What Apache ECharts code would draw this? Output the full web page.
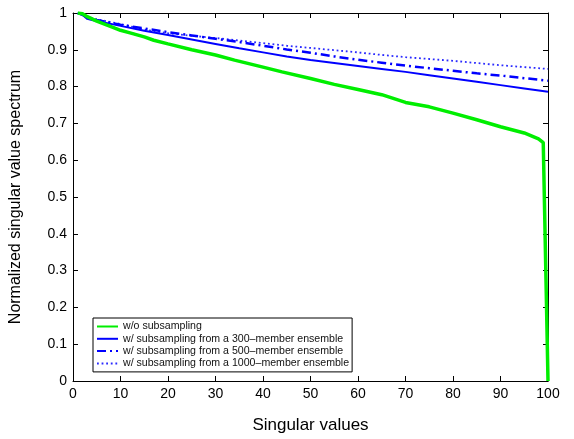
<!DOCTYPE html>
<html><head><meta charset="utf-8">
<script src="https://cdn.jsdelivr.net/npm/echarts@6/dist/echarts.min.js"></script>
<style>html,body{margin:0;padding:0;background:#fff}#c{width:574px;height:439px}</style>
</head><body><div id="c"></div>
<script>
const seriesNames = ['w/o subsampling','w/ subsampling from a 300\u2013member ensemble','w/ subsampling from a 500\u2013member ensemble','w/ subsampling from a 1000\u2013member ensemble'];
const xNoSub = [1,2,3,5,8,10,12,15,17,20,25,30,34,40,44,50,55,60,65,70,75,80,85,90,95,98,99,100];
const yNoSub = [1.0,0.998,0.99,0.978,0.963,0.953,0.946,0.935,0.926,0.916,0.900,0.886,0.872,0.853,0.840,0.822,0.806,0.792,0.778,0.757,0.745,0.728,0.710,0.691,0.674,0.658,0.648,0.0];
const x300 = [1,2,3,4,5,10,15,20,25,30,35,40,45,50,55,60,65,70,75,80,85,90,95,100];
const y300 = [1.0,0.995,0.984,0.981,0.978,0.965,0.952,0.940,0.928,0.916,0.904,0.893,0.882,0.872,0.864,0.856,0.848,0.840,0.831,0.822,0.813,0.804,0.795,0.786];
const x500 = [1,2,3,5,10,15,20,25,30,35,40,45,50,55,60,65,70,75,80,85,90,95,100];
const y500 = [1.0,0.995,0.988,0.981,0.968,0.958,0.948,0.939,0.930,0.921,0.911,0.901,0.892,0.882,0.873,0.865,0.857,0.850,0.843,0.836,0.830,0.823,0.816];
const x1000 = [1,2,3,5,10,15,20,25,30,35,40,45,50,55,60,65,70,75,80,85,90,95,100];
const y1000 = [1.0,0.996,0.990,0.983,0.970,0.955,0.945,0.938,0.932,0.925,0.918,0.911,0.905,0.899,0.893,0.886,0.880,0.875,0.870,0.864,0.858,0.853,0.848];
const xTicks = [0,10,20,30,40,50,60,70,80,90,100];
const yTicks = [0,0.1,0.2,0.3,0.4,0.5,0.6,0.7,0.8,0.9,1];

function pairs(xs, ys){ return xs.map((x,i)=>[x, ys[i]]); }
const font = 'Liberation Sans, Arial, Helvetica, sans-serif';
const chart = echarts.init(document.getElementById('c'), null, {renderer:'canvas'});
const tickStyle = {show:true, inside:true, length:5, lineStyle:{color:'#000', width:1}};
chart.setOption({
  animation:false,
  backgroundColor:'#fff',
  grid:{left:69, right:26, top:13, bottom:48, containLabel:false},
  legend:{
    left:93, top:318, orient:'vertical',
    backgroundColor:'#fff', borderColor:'#000', borderWidth:1,
    padding:[3,3,3,3], itemGap:1.3, itemWidth:21, itemHeight:11,
    itemStyle:{opacity:0},
    textStyle:{fontFamily:font, fontSize:10.6, color:'#111'},
    data:seriesNames
  },
  xAxis:[{
    type:'value', min:0, max:100, interval:10,
    name:'Singular values', nameLocation:'middle', nameGap:36,
    nameTextStyle:{fontFamily:font, fontSize:17, color:'#000'},
    axisLine:{show:true, onZero:false, lineStyle:{color:'#000', width:1}},
    axisTick:tickStyle,
    axisLabel:{fontFamily:font, fontSize:14, color:'#000', margin:6,
      formatter:v=> xTicks.includes(v) ? String(v) : ''},
    splitLine:{show:false}
  },{
    type:'value', min:0, max:100, interval:10, position:'top',
    axisLine:{show:true, onZero:false, lineStyle:{color:'#000', width:1}},
    axisTick:tickStyle, axisLabel:{show:false}, splitLine:{show:false}
  }],
  yAxis:[{
    type:'value', min:0, max:1, interval:0.1,
    name:'Normalized singular value spectrum', nameLocation:'middle', nameGap:49,
    nameTextStyle:{fontFamily:font, fontSize:16, color:'#000'},
    axisLine:{show:true, onZero:false, lineStyle:{color:'#000', width:1}},
    axisTick:tickStyle,
    axisLabel:{fontFamily:font, fontSize:14, color:'#000', margin:6,
      formatter:v=>{ const r=Math.round(v*10)/10; return yTicks.includes(r)? String(r):''; }},
    splitLine:{show:false}
  },{
    type:'value', min:0, max:1, interval:0.1, position:'right',
    axisLine:{show:true, onZero:false, lineStyle:{color:'#000', width:1}},
    axisTick:tickStyle, axisLabel:{show:false}, splitLine:{show:false}
  }],
  series:[
    {name:seriesNames[0], type:'line', symbol:'none', z:5,
      data:pairs(xNoSub,yNoSub), lineStyle:{color:'#00ee00', width:3.5}, itemStyle:{color:'#00ee00'}},
    {name:seriesNames[1], type:'line', symbol:'none', z:4,
      data:pairs(x300,y300), lineStyle:{color:'#0000ff', width:2}, itemStyle:{color:'#0000ff'}},
    {name:seriesNames[2], type:'line', symbol:'none', z:3,
      data:pairs(x500,y500), lineStyle:{color:'#0000ff', width:2.5, type:[9,4,2,4]}, itemStyle:{color:'#0000ff'}},
    {name:seriesNames[3], type:'line', symbol:'none', z:2,
      data:pairs(x1000,y1000), lineStyle:{color:'#2a2aff', width:1.8, type:[1.8,2.8]}, itemStyle:{color:'#2a2aff'}}
  ]
});
</script></body></html>
